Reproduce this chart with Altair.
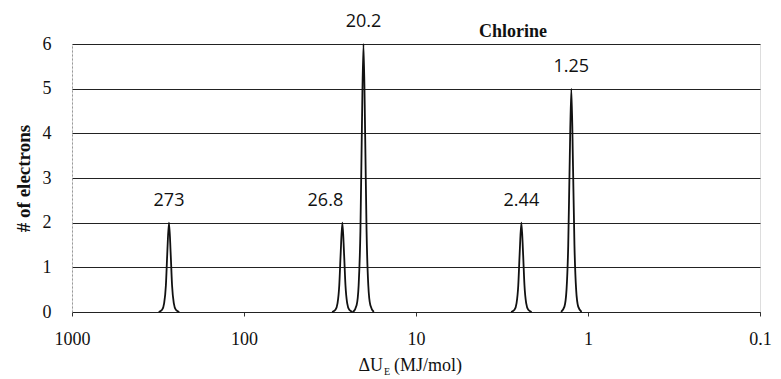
import altair as alt
import pandas as pd

# Peak summary values
peak_centers = [273, 26.8, 20.2, 2.44, 1.25]
peak_heights = [2, 2, 6, 2, 5]
peak_labels = ["273", "26.8", "20.2", "2.44", "1.25"]

# Traced curve points for each peak (x in MJ/mol, y = # of electrons)
p273_x = [313.4, 299.3, 291.2, 284.5, 279.4, 273, 266.8, 262.0, 256.0, 249.0, 237.8]
p273_y = [0, 0.05, 0.2, 0.6, 1.3, 2, 1.3, 0.6, 0.2, 0.05, 0]
p268_x = [30.77, 29.39, 28.58, 27.93, 27.42, 26.8, 26.19, 25.71, 25.13, 24.44, 23.34]
p268_y = [0, 0.05, 0.2, 0.6, 1.3, 2, 1.3, 0.6, 0.2, 0.05, 0]
p202_x = [23.19, 22.15, 21.55, 21.05, 20.67, 20.2, 19.74, 19.38, 18.94, 18.42, 17.59]
p202_y = [0, 0.15, 0.6, 1.8, 3.9, 6, 3.9, 1.8, 0.6, 0.15, 0]
p244_x = [2.802, 2.675, 2.602, 2.543, 2.497, 2.44, 2.384, 2.341, 2.288, 2.225, 2.125]
p244_y = [0, 0.05, 0.2, 0.6, 1.3, 2, 1.3, 0.6, 0.2, 0.05, 0]
p125_x = [1.435, 1.371, 1.333, 1.303, 1.279, 1.25, 1.222, 1.199, 1.172, 1.140, 1.089]
p125_y = [0, 0.12, 0.5, 1.5, 3.25, 5, 3.25, 1.5, 0.5, 0.12, 0]

x_ticks = [1000, 100, 10, 1, 0.1]
y_ticks = [0, 1, 2, 3, 4, 5, 6]

rows = []
for name, xs, ys in [("273", p273_x, p273_y), ("26.8", p268_x, p268_y),
                     ("20.2", p202_x, p202_y), ("2.44", p244_x, p244_y),
                     ("1.25", p125_x, p125_y)]:
    for xv, yv in zip(xs, ys):
        rows.append({"peak": name, "x": xv, "y": yv})
curve_df = pd.DataFrame(rows)
peaks_df = pd.DataFrame({"x": peak_centers, "y": peak_heights, "label": peak_labels})

SERIF = "Liberation Serif"

xscale = alt.Scale(type="log", domain=[0.1, 1000], reverse=True)
yscale = alt.Scale(domain=[0, 6])

xaxis = alt.Axis(values=x_ticks, format="~g", title=None, grid=False, labelFlush=False,
                 labelFont=SERIF, labelFontSize=18, labelColor="#111",
                 tickSize=4, tickColor="#333", labelPadding=14,
                 domainColor="#222", domainWidth=1.2)
yaxis = alt.Axis(values=y_ticks, title="# of electrons", grid=True, gridColor="#222",
                 gridWidth=1, labelFont=SERIF, labelFontSize=18, labelColor="#111",
                 ticks=False, labelPadding=21, domainColor="#999", domainDash=[2, 2],
                 titleFont=SERIF, titleFontSize=19, titleFontWeight="bold",
                 titleColor="#111", titlePadding=9)

curves = alt.Chart(curve_df).mark_line(color="#111", strokeWidth=1.8, interpolate="monotone").encode(
    x=alt.X("x:Q", scale=xscale, axis=xaxis),
    y=alt.Y("y:Q", scale=yscale, axis=yaxis),
    detail="peak:N",
)

label_base = alt.Chart(peaks_df).encode(
    x=alt.X("x:Q", scale=xscale),
    y=alt.Y("y:Q", scale=yscale),
    text="label:N",
)
labels_main = label_base.transform_filter(alt.datum.label != "26.8").mark_text(
    font="Open Sans", fontSize=18, color="#111", dy=-22, baseline="middle", align="center")
labels_shift = label_base.transform_filter(alt.datum.label == "26.8").mark_text(
    font="Open Sans", fontSize=18, color="#111", dy=-22, dx=-17, baseline="middle", align="center")

title_df = pd.DataFrame({"t": ["Chlorine"]})
title = alt.Chart(title_df).mark_text(font=SERIF, fontSize=18, fontWeight="bold",
                                      color="#111", align="center", baseline="alphabetic").encode(
    text="t:N", x=alt.value(441), y=alt.value(-7))

xt_df = pd.DataFrame({"a": ["ΔU"], "b": ["E"], "c": ["(MJ/mol)"]})
xt1 = alt.Chart(xt_df).mark_text(font=SERIF, fontSize=18, color="#111", align="right",
                                 baseline="alphabetic").encode(text="a:N", x=alt.value(311), y=alt.value(327))
xt2 = alt.Chart(xt_df).mark_text(font=SERIF, fontSize=10, color="#111", align="left",
                                 baseline="alphabetic").encode(text="b:N", x=alt.value(312), y=alt.value(331))
xt3 = alt.Chart(xt_df).mark_text(font=SERIF, fontSize=18, color="#111", align="left",
                                 baseline="alphabetic").encode(text="c:N", x=alt.value(322), y=alt.value(327))

chart = alt.layer(curves, labels_main, labels_shift, title, xt1, xt2, xt3).properties(
    width=688, height=268,
    autosize=alt.AutoSizeParams(type="none"),
    padding={"left": 64, "top": 36, "right": 13, "bottom": 66},
).configure_view(stroke=None).configure(background="white")

chart.save("out.html", embed_options={"renderer": "svg", "actions": False})
